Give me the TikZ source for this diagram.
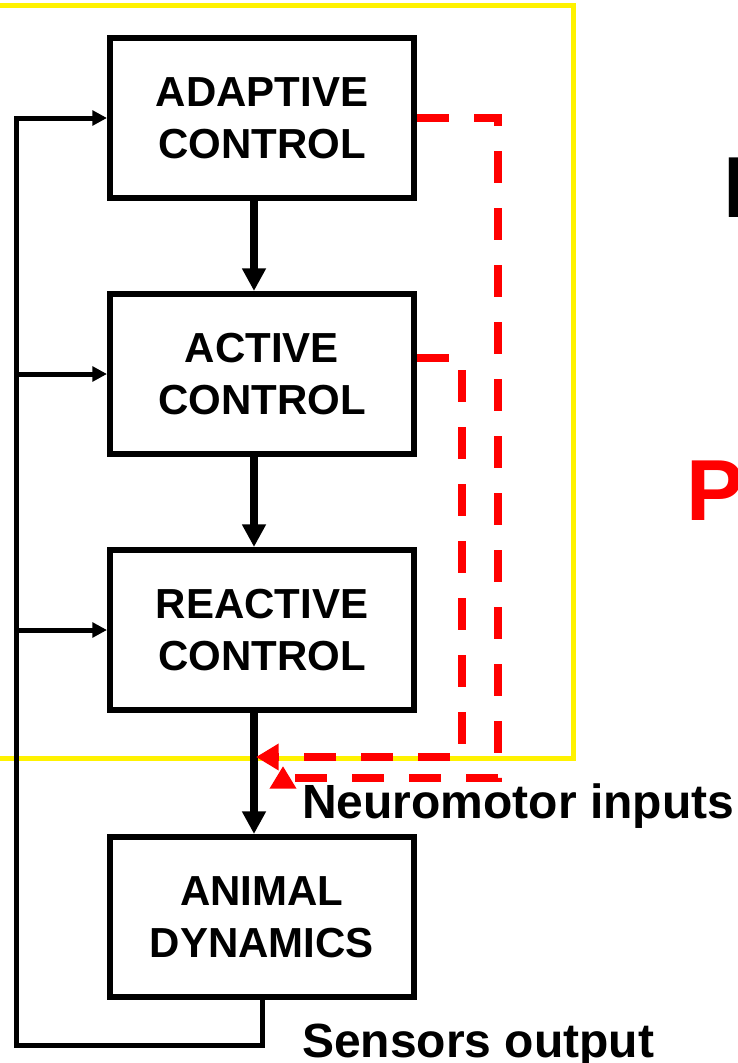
\documentclass[tikz,border=0pt]{standalone}
\usepackage{fontspec}
\setmainfont{Liberation Sans}
\usetikzlibrary{arrows.meta, positioning}

\begin{document}
\begin{tikzpicture}[
        x=0.75pt, y=-0.75pt,
        node distance=67.5pt,
        block/.style={rectangle, draw=black, line width=4.5pt, minimum width=228pt, minimum height=120pt, align=center, inner sep=0pt, font=\fontsize{31.5pt}{39pt}\selectfont\bfseries},
        flow/.style={-{Triangle[length=17pt, width=17pt]}, line width=6pt, draw=black},
        feedback/.style={-{Triangle[length=11pt, width=11pt]}, line width=3.75pt, draw=black, line join=miter},
        signal/.style={-{Triangle[length=17pt, width=19pt]}, line width=5.5pt, draw=red, dash pattern=on 24pt off 18.75pt},
        frame/.style={draw=yellow, line width=3.75pt},
        sidetext/.style={anchor=base west, inner sep=0pt, font=\fontsize{36pt}{40pt}\selectfont\bfseries},
        bigtext/.style={anchor=base west, inner sep=0pt, font=\fontsize{65pt}{70pt}\selectfont\bfseries}
    ]
    \useasboundingbox (0,0) rectangle (738,1063);

    % The yellow frame round the controller
    \draw[frame] (-20,6) rectangle (573,758);

    % The Control Boxes
    \node (adaptive) [block] at (262,118) {ADAPTIVE\\CONTROL};
    \node (active) [block, below=of adaptive] {ACTIVE\\CONTROL};
    \node (reactive) [block, below=of active] {REACTIVE\\CONTROL};
    \node (animal) [block, below=90.75pt of reactive] {ANIMAL\\DYNAMICS};

    % The Downward Arrows
    \draw [flow] ([xshift=-6pt]adaptive.south) -- ([xshift=-6pt]active.north);
    \draw [flow] ([xshift=-6pt]active.south) -- ([xshift=-6pt]reactive.north);
    \draw [flow] ([xshift=-6pt]reactive.south) -- ([xshift=-6pt]animal.north);

    % The feedback loop
    \coordinate (rail) at (16,1045);
    \draw [feedback] (animal.south) |- (rail) -- (rail |- adaptive.west) -- (adaptive.west);
    \draw [feedback] (rail |- active.west) -- (active.west);
    \draw [feedback] (rail |- reactive.west) -- (reactive.west);

    % The dashed red links
    \coordinate (junc) at (256,757);
    \coordinate (tip) at (283,766);
    \draw [signal] (adaptive.east) -| (498,778) -- (283,778) -- (tip);
    \draw [signal] ([yshift=12pt]active.east) -| (462,757) -- (junc);

    % The texts
    \node (neuro) [sidetext] at (302,818) {Neuromotor inputs};
    \node (sensors) [sidetext] at (302,1057) {Sensors output};
    \node (ititle) [bigtext] at (723,217) {I};
    \node (ptitle) [bigtext, text=red] at (686,520) {P};

\end{tikzpicture}
\end{document}
